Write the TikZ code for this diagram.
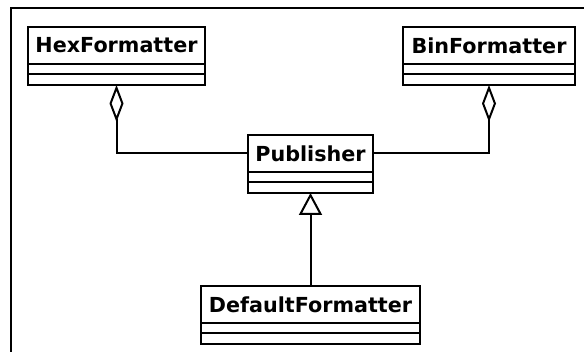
\documentclass[tikz,border=0pt]{standalone}
\usepackage{fontspec}
\setmainfont{DejaVu Sans}
\usetikzlibrary{positioning,arrows.meta}

\begin{document}
\begin{tikzpicture}[%
x=1pt, y=-1pt,
classname/.style={draw, line width=2pt, outer sep=0pt, inner sep=0pt, minimum height=37pt, font=\fontsize{20.7}{24}\selectfont\bfseries},
classpart/.style={draw, line width=2pt, outer sep=0pt, inner sep=0pt, minimum height=10.5pt},
aggregation/.style={line width=2pt, {Diamond[open, length=37pt, width=14pt, line width=2pt]}-},
inheritance/.style={line width=2pt, -{Triangle[open, length=22pt, width=23pt, line width=2pt]}},
]
\useasboundingbox (0,0) rectangle (584,352);
%% frame;
\draw [line width=2.5pt] (11,352) -- (11,8) -- (584,8);
%% class;
\node [classname, minimum width=177pt] (hex) at (116.5,45.5) {HexFormatter};
\node [classpart, minimum width=177pt, below=0pt of hex] (hexa) {};
\node [classpart, minimum width=177pt, below=0pt of hexa] (hexb) {};
%% class;
\node [classname, minimum width=172pt] (bin) at (489,45.5) {BinFormatter};
\node [classpart, minimum width=172pt, below=0pt of bin] (bina) {};
\node [classpart, minimum width=172pt, below=0pt of bina] (binb) {};
%% class;
\node [classname, minimum width=125pt] (pub) at (310.5,153.5) {Publisher};
\node [classpart, minimum width=125pt, below=0pt of pub] (puba) {};
\node [classpart, minimum width=125pt, below=0pt of puba] (pubb) {};
%% class;
\node [classname, minimum width=219pt] (def) at (310.5,304.5) {DefaultFormatter};
\node [classpart, minimum width=219pt, below=0pt of def] (defa) {};
\node [classpart, minimum width=219pt, below=0pt of defa] (defb) {};
%% aggregation;
\draw [aggregation] (hexb.south) |- (pub.west);
\draw [aggregation] (binb.south) |- (pub.east);
%% inheritance;
\draw [inheritance] (def.north) -- (pubb.south);
\end{tikzpicture}
\end{document}
